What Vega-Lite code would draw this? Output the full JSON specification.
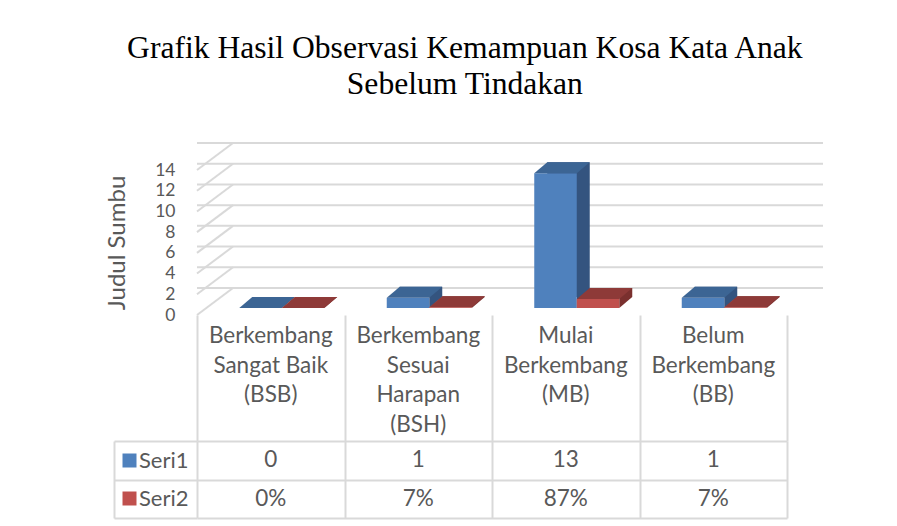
{
  "$schema": "https://vega.github.io/schema/vega-lite/v6.json",
  "padding": {"left": 105, "top": 33, "right": 5, "bottom": 5},
  "autosize": {"type": "pad"},
  "background": "white",
  "bounds": "flush",
  "spacing": 0,
  "title": {
    "text": ["Grafik Hasil Observasi Kemampuan Kosa Kata Anak", "Sebelum Tindakan"],
    "font": "Liberation Serif", "fontSize": 31.6, "fontWeight": "normal", "color": "#000000",
    "lineHeight": 36, "anchor": "middle", "offset": 38
  },
  "config": {
    "view": {"stroke": null},
    "font": "Lato",
    "axis": {"labelFont": "Lato", "titleFont": "Lato"},
    "axisY": {"labelOverlap": false}
  },
  "datasets": {
    "obs": [
      {"cat": "Berkembang|Sangat Baik|(BSB)", "series": "Seri1", "value": 0},
      {"cat": "Berkembang|Sesuai|Harapan|(BSH)", "series": "Seri1", "value": 1},
      {"cat": "Mulai|Berkembang|(MB)", "series": "Seri1", "value": 13},
      {"cat": "Belum|Berkembang|(BB)", "series": "Seri1", "value": 1},
      {"cat": "Berkembang|Sangat Baik|(BSB)", "series": "Seri2", "value": 0},
      {"cat": "Berkembang|Sesuai|Harapan|(BSH)", "series": "Seri2", "value": 0.07},
      {"cat": "Mulai|Berkembang|(MB)", "series": "Seri2", "value": 0.87},
      {"cat": "Belum|Berkembang|(BB)", "series": "Seri2", "value": 0.07}
    ],
    "ticks": [{"t": 0}, {"t": 2}, {"t": 4}, {"t": 6}, {"t": 8}, {"t": 10}, {"t": 12}, {"t": 14}]
  },
  "vconcat": [
    {
      "width": 590,
      "height": 145,
      "data": {"name": "obs"},
      "resolve": {"axis": {"y": "independent"}},
      "layer": [
        {
          "data": {"name": "ticks"},
          "mark": {"type": "rule", "color": "#D9D9D9", "strokeWidth": 2, "xOffset": 36, "x2Offset": 36, "yOffset": -27},
          "encoding": {
            "y": {
              "field": "t", "type": "quantitative",
              "scale": {"domain": [0, 14], "nice": false},
              "axis": {
                "title": "Judul Sumbu", "orient": "left", "values": [0, 2, 4, 6, 8, 10, 12, 14], "labelOverlap": false,
                "grid": false, "domain": false, "ticks": false,
                "labelPadding": 22, "labelFontSize": 17.5, "labelColor": "#595959",
                "titleFontSize": 24, "titleColor": "#595959", "titleFontWeight": "normal", "titlePadding": 25
              }
            }
          }
        },
        {
          "data": {"name": "ticks"},
          "mark": {"type": "point", "shape": "M0,0L36,-27", "size": 4, "filled": false, "stroke": "#D9D9D9", "strokeWidth": 2, "opacity": 1},
          "encoding": {
            "x": {
              "datum": "Berkembang|Sangat Baik|(BSB)", "type": "nominal", "bandPosition": 0,
              "scale": {"domain": ["Berkembang|Sangat Baik|(BSB)", "Berkembang|Sesuai|Harapan|(BSH)", "Mulai|Berkembang|(MB)", "Belum|Berkembang|(BB)"], "paddingInner": 0, "paddingOuter": 0},
              "axis": null
            },
            "y": {"field": "t", "type": "quantitative", "axis": null}
          }
        },
        {
          "transform": [{"filter": "datum.series === 'Seri1'"}],
          "mark": {"type": "bar", "width": 42.5, "color": "#34547F", "xOffset": 2.75, "yOffset": -18, "y2Offset": -18},
          "encoding": {"x": {"field": "cat", "type": "nominal", "axis": null}, "y": {"field": "value", "type": "quantitative", "axis": null}}
        },
        {
          "transform": [{"filter": "datum.series === 'Seri1'"}],
          "mark": {"type": "point", "shape": "M21.25,0L34.25,-11L21.25,-11Z", "size": 4, "filled": true, "color": "#34547F", "opacity": 1, "strokeWidth": 0, "xOffset": -10.25, "yOffset": -7},
          "encoding": {"x": {"field": "cat", "type": "nominal", "axis": null}, "y": {"datum": 0, "type": "quantitative", "axis": null}}
        },
        {
          "transform": [{"filter": "datum.series === 'Seri1'"}],
          "mark": {"type": "bar", "width": 42.5, "color": "#4F81BD", "xOffset": -10.25, "yOffset": -7, "y2Offset": -7},
          "encoding": {"x": {"field": "cat", "type": "nominal", "axis": null}, "y": {"field": "value", "type": "quantitative", "axis": null}}
        },
        {
          "transform": [{"filter": "datum.series === 'Seri1'"}],
          "mark": {"type": "point", "shape": "M-21.25,0L21.25,0L34.25,-11L-8.25,-11Z", "size": 4, "filled": true, "color": "#3C6594", "opacity": 1, "strokeWidth": 0, "xOffset": -10.25, "yOffset": -7},
          "encoding": {"x": {"field": "cat", "type": "nominal", "axis": null}, "y": {"field": "value", "type": "quantitative", "axis": null}}
        },
        {
          "transform": [{"filter": "datum.series === 'Seri2'"}],
          "mark": {"type": "bar", "width": 42.5, "color": "#7A302E", "xOffset": 45.25, "yOffset": -18, "y2Offset": -18},
          "encoding": {"x": {"field": "cat", "type": "nominal", "axis": null}, "y": {"field": "value", "type": "quantitative", "axis": null}}
        },
        {
          "transform": [{"filter": "datum.series === 'Seri2'"}],
          "mark": {"type": "point", "shape": "M21.25,0L34.25,-11L21.25,-11Z", "size": 4, "filled": true, "color": "#7A302E", "opacity": 1, "strokeWidth": 0, "xOffset": 32.25, "yOffset": -7},
          "encoding": {"x": {"field": "cat", "type": "nominal", "axis": null}, "y": {"datum": 0, "type": "quantitative", "axis": null}}
        },
        {
          "transform": [{"filter": "datum.series === 'Seri2'"}],
          "mark": {"type": "bar", "width": 42.5, "color": "#C0504D", "xOffset": 32.25, "yOffset": -7, "y2Offset": -7},
          "encoding": {"x": {"field": "cat", "type": "nominal", "axis": null}, "y": {"field": "value", "type": "quantitative", "axis": null}}
        },
        {
          "transform": [{"filter": "datum.series === 'Seri2'"}],
          "mark": {"type": "point", "shape": "M-21.25,0L21.25,0L34.25,-11L-8.25,-11Z", "size": 4, "filled": true, "color": "#8E3A38", "opacity": 1, "strokeWidth": 0, "xOffset": 32.25, "yOffset": -7},
          "encoding": {"x": {"field": "cat", "type": "nominal", "axis": null}, "y": {"field": "value", "type": "quantitative", "axis": null}}
        }
      ]
    },
    {
      "width": 590,
      "height": 126,
      "data": {"name": "obs"},
      "transform": [{"filter": "datum.series === 'Seri1'"}],
      "mark": {"type": "text", "lineBreak": "|", "baseline": "top", "dy": -53, "fontSize": 22.5, "lineHeight": 29.5, "color": "#595959", "font": "Lato"},
      "encoding": {
        "x": {
          "field": "cat", "type": "nominal",
          "scale": {"domain": ["Berkembang|Sangat Baik|(BSB)", "Berkembang|Sesuai|Harapan|(BSH)", "Mulai|Berkembang|(MB)", "Belum|Berkembang|(BB)"], "paddingInner": 0, "paddingOuter": 0},
          "axis": {"title": null, "labels": false, "ticks": false, "domain": false, "grid": true, "tickBand": "extent", "gridColor": "#D9D9D9", "gridWidth": 2}
        },
        "text": {"field": "cat"}
      }
    },
    {
      "width": 590,
      "height": 77,
      "data": {"name": "obs"},
      "resolve": {"axis": {"y": "independent"}},
      "layer": [
        {
          "transform": [{"filter": "datum.series === 'Seri1'"}],
          "mark": {"type": "text", "fontSize": 22.5, "color": "#595959", "font": "Lato"},
          "encoding": {
            "x": {
              "field": "cat", "type": "nominal",
              "scale": {"domain": ["Berkembang|Sangat Baik|(BSB)", "Berkembang|Sesuai|Harapan|(BSH)", "Mulai|Berkembang|(MB)", "Belum|Berkembang|(BB)"], "paddingInner": 0, "paddingOuter": 0},
              "axis": {"title": null, "labels": false, "ticks": false, "domain": false, "grid": true, "tickBand": "extent", "gridColor": "#D9D9D9", "gridWidth": 2}
            },
            "y": {
              "field": "series", "type": "nominal",
              "scale": {"domain": ["Seri1", "Seri2"], "paddingInner": 0, "paddingOuter": 0},
              "axis": {"title": null, "orient": "left", "grid": true, "tickBand": "extent", "gridColor": "#D9D9D9", "gridWidth": 2, "ticks": true, "tickSize": 83, "tickColor": "#D9D9D9", "tickWidth": 2, "domain": false, "labelPadding": -74, "labelFontSize": 22, "labelColor": "#595959"}
            },
            "text": {"field": "value", "type": "quantitative", "format": "d"}
          }
        },
        {
          "transform": [{"filter": "datum.series === 'Seri2'"}],
          "mark": {"type": "text", "fontSize": 22.5, "color": "#595959", "font": "Lato"},
          "encoding": {
            "x": {
              "field": "cat", "type": "nominal",
              "axis": {"title": null, "labels": false, "ticks": false, "domain": false, "grid": true, "tickBand": "extent", "gridColor": "#D9D9D9", "gridWidth": 2}
            },
            "y": {
              "field": "series", "type": "nominal",
              "axis": {"title": null, "orient": "left", "offset": 83, "domain": true, "domainColor": "#D9D9D9", "domainWidth": 2, "labels": false, "ticks": false, "grid": false}
            },
            "text": {"field": "value", "type": "quantitative", "format": ".0%"}
          }
        },
        {
          "mark": {"type": "rect", "opacity": 0},
          "encoding": {
            "x": {
              "field": "cat", "type": "nominal",
              "axis": {"title": null, "labels": false, "ticks": false, "domain": false, "grid": true, "tickBand": "extent", "gridColor": "#D9D9D9", "gridWidth": 2}
            },
            "y": {
              "field": "series", "type": "nominal",
              "axis": {"title": null, "orient": "left", "offset": 61, "domain": false, "labels": false, "ticks": true, "tickBand": "center", "tickSize": 14, "tickWidth": 14, "tickColor": {"condition": {"test": "datum.value === 'Seri1'", "value": "#4F81BD"}, "value": "#C0504D"}, "grid": false}
            }
          }
        }
      ]
    }
  ]
}
